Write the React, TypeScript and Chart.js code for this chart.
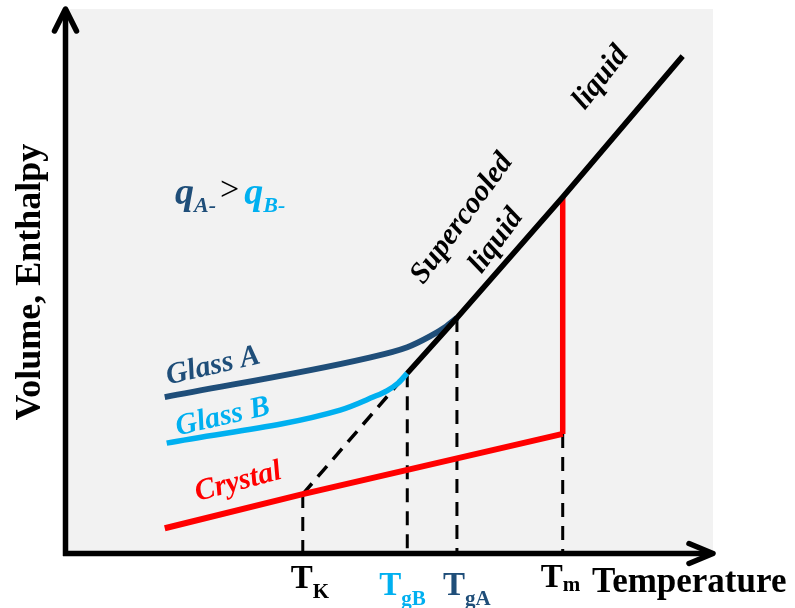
import { useEffect, useRef } from 'react';
import { Chart, registerables } from 'chart.js';
Chart.register(...registerables);

// Temperature (x) / Volume-Enthalpy (y) in arbitrary units (0..100)
const liquidT = [52.6, 60.3, 76.7, 95.3];
const liquidH = [32.8, 43.0, 65.3, 91.3];
const supercooledT = [36.4, 52.6];
const supercooledH = [10.5, 32.8];
const crystalT = [15.0, 36.4, 76.7];
const crystalH = [4.2, 10.5, 21.6];
const meltT = [76.7, 76.7];
const meltH = [21.6, 65.3];
const glassAT = [15.0, 46.4, 52.6, 56.1, 58.6, 60.3];
const glassAH = [28.4, 35.6, 37.6, 39.6, 41.4, 43.0];
const glassBT = [15.3, 42.2, 47.3, 49.5, 51.2, 52.6];
const glassBH = [19.9, 26.0, 28.4, 29.6, 31.0, 32.8];

const tickSubs = ['K', 'gB', 'gA', 'm'];
const tickTemps = [36.4, 52.6, 60.3, 76.7];
const dropTops = [10.5, 32.8, 43.0, 21.6];

const noteTexts = ['liquid', 'Supercooled', 'liquid', 'Glass A', 'Glass B', 'Crystal'];
const noteT = [82.6, 61.1, 66.4, 22.5, 24.0, 26.4];
const noteH = [87.3, 61.3, 57.2, 34.1, 24.7, 12.7];

const DARK = '#1F4E79';
const LIGHT = '#00B0F0';
const RED = '#FF0000';
const SERIF = '"Liberation Serif", "Times New Roman", serif';

const noteRot = [-52, -54, -54, -13, -13, -15];
const noteSize = [30, 30, 30, 30, 30, 30];
const noteColor = ['#000', '#000', '#000', DARK, LIGHT, RED];
const tickColor = ['#000', LIGHT, DARK, '#000'];
const tickDx = [-12, -28, -14, -22];
const tickBase = [37, 44, 44, 36];

const pts = (xs: number[], ys: number[]) => xs.map((x, i) => ({ x, y: ys[i] }));

const decor = {
  id: 'decor',
  beforeDatasetsDraw(chart: any) {
    const { ctx, chartArea: a } = chart;
    ctx.save();
    ctx.fillStyle = '#F2F2F2';
    ctx.fillRect(a.left, a.top, a.right - a.left, a.bottom - a.top);
    ctx.restore();
  },
  afterDatasetsDraw(chart: any) {
    const { ctx, chartArea: a, scales } = chart;
    const xs = scales.x, ys = scales.y;
    ctx.save();
    // axes
    ctx.strokeStyle = '#000';
    ctx.lineWidth = 5.5;
    ctx.lineCap = 'butt';
    ctx.lineJoin = 'miter';
    const ax = a.left - 2.5, ay = a.bottom + 2.5;
    ctx.beginPath();
    ctx.moveTo(ax, ay + 2.5);
    ctx.lineTo(ax, a.top + 1);
    ctx.moveTo(ax - 2.5, ay);
    ctx.lineTo(a.right - 2, ay);
    ctx.stroke();
    ctx.lineCap = 'round';
    ctx.lineJoin = 'round';
    ctx.beginPath();
    ctx.moveTo(ax - 11, a.top + 22);
    ctx.lineTo(ax, a.top);
    ctx.lineTo(ax + 11, a.top + 22);
    ctx.moveTo(a.right - 24, ay - 10);
    ctx.lineTo(a.right, ay);
    ctx.lineTo(a.right - 24, ay + 10);
    ctx.stroke();

    // annotations
    ctx.textAlign = 'center';
    ctx.textBaseline = 'middle';
    noteTexts.forEach((t, i) => {
      ctx.save();
      ctx.translate(xs.getPixelForValue(noteT[i]), ys.getPixelForValue(noteH[i]));
      ctx.rotate((noteRot[i] * Math.PI) / 180);
      ctx.font = `italic bold ${noteSize[i]}px ${SERIF}`;
      ctx.fillStyle = noteColor[i];
      ctx.fillText(t, 0, 0);
      ctx.restore();
    });

    // q_A- > q_B-
    ctx.textAlign = 'left';
    ctx.textBaseline = 'alphabetic';
    let qx = xs.getPixelForValue(16.6);
    const qy = ys.getPixelForValue(64.0);
    const seg = (text: string, font: string, color: string, dy: number) => {
      ctx.font = font;
      ctx.fillStyle = color;
      ctx.fillText(text, qx, qy + dy);
      qx += ctx.measureText(text).width;
    };
    seg('q', `italic bold 38px ${SERIF}`, DARK, 0);
    seg('A-', `italic bold 22px ${SERIF}`, DARK, 8);
    qx += 4;
    seg('>', `34px ${SERIF}`, '#000', -4);
    qx += 5;
    seg('q', `italic bold 38px ${SERIF}`, LIGHT, 0);
    seg('B-', `italic bold 22px ${SERIF}`, LIGHT, 8);

    // tick labels
    tickSubs.forEach((s, i) => {
      let tx = xs.getPixelForValue(tickTemps[i]) + tickDx[i];
      const ty = a.bottom + tickBase[i];
      ctx.fillStyle = tickColor[i];
      ctx.font = `bold 33px ${SERIF}`;
      ctx.fillText('T', tx, ty);
      tx += ctx.measureText('T').width;
      ctx.font = `bold 21px ${SERIF}`;
      ctx.fillText(s, tx, ty + (s === 'm' ? 4 : 10));
    });

    // axis titles
    ctx.fillStyle = '#000';
    ctx.font = `bold 35px ${SERIF}`;
    ctx.fillText('Temperature', 592, a.bottom + 41);
    ctx.save();
    ctx.translate(40, 282);
    ctx.rotate(-Math.PI / 2);
    ctx.textAlign = 'center';
    ctx.font = `bold 36px ${SERIF}`;
    ctx.fillText('Volume, Enthalpy', 0, 0);
    ctx.restore();
    ctx.restore();
  },
};

export default function App() {
  const ref = useRef<HTMLCanvasElement>(null);
  useEffect(() => {
    if (!ref.current) return;
    const drops = tickTemps.map((t, i) => ({
      data: pts([t, t], [dropTops[i], 0]),
      borderDash: [14, 9],
      borderWidth: 3,
      borderColor: '#000',
      order: 5,
    }));
    const chart = new Chart(ref.current, {
      type: 'line',
      data: {
        datasets: [
          { data: pts(liquidT, liquidH), borderColor: '#000', borderWidth: 5.5, order: 0 },
          { data: pts(meltT, meltH), borderColor: RED, borderWidth: 5.5, order: 1 },
          { data: pts(glassAT, glassAH), borderColor: DARK, borderWidth: 6, cubicInterpolationMode: 'monotone', order: 2 },
          { data: pts(glassBT, glassBH), borderColor: LIGHT, borderWidth: 5.5, cubicInterpolationMode: 'monotone', order: 2 },
          { data: pts(crystalT, crystalH), borderColor: RED, borderWidth: 6, order: 3 },
          { data: pts(supercooledT, supercooledH), borderDash: [14, 9], borderWidth: 3.5, borderColor: '#000', order: 4 },
          ...drops,
        ] as any,
      },
      options: {
        animation: false,
        responsive: false,
        elements: { point: { radius: 0 }, line: { tension: 0, borderCapStyle: 'butt', fill: false } },
        layout: { padding: { left: 68, right: 82, top: 9, bottom: 57 } },
        scales: {
          x: { type: 'linear', min: 0, max: 100, display: false },
          y: { type: 'linear', min: 0, max: 100, display: false },
        },
        plugins: { legend: { display: false }, tooltip: { enabled: false } },
      } as any,
      plugins: [decor],
    });
    return () => chart.destroy();
  }, []);
  return (
    <div style={{ position: 'fixed', left: 0, top: 0, width: 795, height: 608, background: '#fff' }}>
      <canvas ref={ref} width={795} height={608} style={{ width: 795, height: 608, display: 'block' }} />
    </div>
  );
}
